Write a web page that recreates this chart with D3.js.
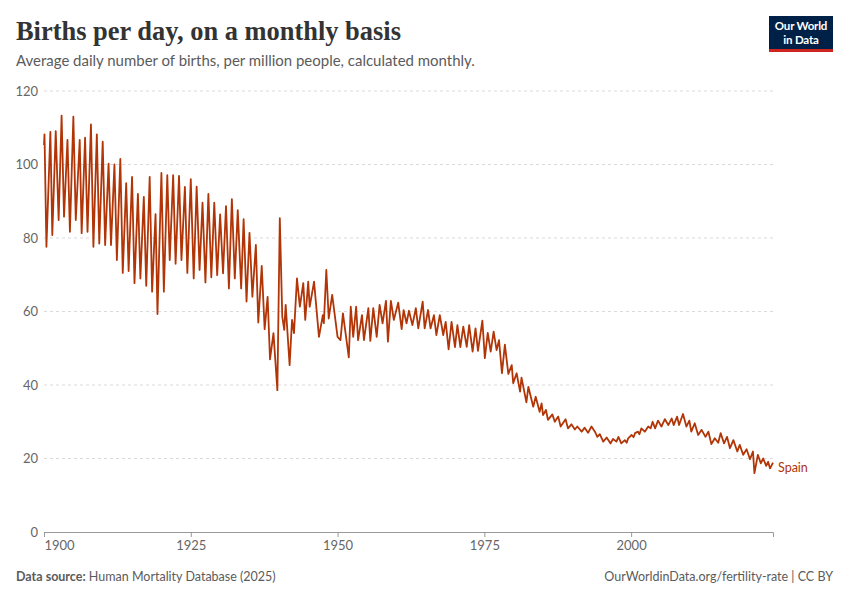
<!DOCTYPE html>
<html>
<head>
<meta charset="utf-8">
<script src="https://cdn.jsdelivr.net/npm/d3@7"></script>
<style>
  html, body { margin: 0; padding: 0; background: #fff; }
  svg { display: block; font-family: Lato, "Noto Sans", sans-serif; }
</style>
</head>
<body>
<div id="chart"></div>
<script>
// monthly births per day per million, Spain
const months = [
  "1900-01","1900-02","1900-06","1901-02","1901-06","1902-01","1902-07","1903-01","1903-06",
  "1904-01","1904-06","1905-01","1905-06","1906-02","1906-06","1907-01","1907-06","1908-01","1908-06",
  "1909-01","1909-06","1910-01","1910-06","1911-01","1911-06","1912-01","1912-06","1913-01","1913-06",
  "1914-01","1914-06","1915-01","1915-06","1916-01","1916-06","1917-01","1917-06","1918-01","1918-06",
  "1919-01","1919-05","1920-01","1920-06","1921-01","1921-06","1922-01","1922-06","1923-01","1923-06",
  "1924-01","1924-06","1925-01","1925-07","1926-01","1926-07","1927-01","1927-07","1928-01","1928-07",
  "1929-01","1929-07","1930-01","1930-07","1931-01","1931-07","1932-01","1932-07","1933-01","1933-08",
  "1934-01","1934-07","1935-01","1935-07","1936-02","1936-07","1937-02","1937-08","1938-02","1938-07",
  "1939-02","1939-10","1940-03","1940-08","1940-12","1941-03","1941-11","1942-04","1942-08",
  "1943-02","1943-08","1944-03","1944-07","1945-01","1945-04","1946-01","1946-11","1947-07","1947-09",
  "1948-02","1948-07","1949-02","1950-01","1950-07","1950-12","1951-05","1951-12","1952-04","1952-09",
  "1953-03","1953-07","1954-03","1954-07","1955-04","1955-08","1956-02","1956-09","1957-03","1957-09",
  "1958-04","1958-08","1959-02","1959-08","1960-05","1960-12","1961-04","1961-10","1962-03","1962-10",
  "1963-05","1963-10","1964-07","1964-11","1965-06","1965-11","1966-06","1966-11","1967-06","1968-01",
  "1968-06","1968-12","1969-06","1970-01","1970-06","1970-12","1971-06","1972-01","1972-06","1973-01",
  "1973-07","1973-12","1974-09","1975-02","1975-08","1976-02","1976-08","1977-02","1977-07","1978-01",
  "1978-07","1979-02","1979-09","1979-12","1980-07","1981-02","1981-05","1982-03","1982-07","1983-05",
  "1983-10","1984-06","1984-10","1985-01","1985-07","1985-11","1986-08","1987-01","1987-08","1988-01",
  "1988-11","1989-04","1989-11","1990-06","1990-11","1991-08","1992-02","1992-09","1993-04","1993-11",
  "1994-04","1994-09","1995-04","1995-11","1996-07","1996-12","1997-07","1997-11","1998-05","1998-12",
  "1999-04","1999-07","2000-02","2000-06","2000-09","2001-03","2001-06","2001-10","2002-05","2002-12",
  "2003-05","2003-09","2004-02","2004-08","2005-03","2005-10","2006-05","2006-12","2007-04","2007-11",
  "2008-03","2008-11","2009-06","2009-12","2010-04","2010-11","2011-06","2012-01","2012-09","2013-03",
  "2013-09","2014-04","2014-11","2015-04","2015-11","2016-05","2016-11","2017-06","2018-02","2018-07",
  "2019-02","2019-09","2020-04","2020-10","2021-01","2021-08","2022-02","2022-07","2023-01","2023-05",
  "2023-09","2024-03"
];

const births = [
  105.3,108.2,77.6,108.9,80.8,109.1,84.9,113.3,85.8,
  106.7,81.7,113,84.9,106.7,81.3,107.3,81.7,110.9,77.6,
  108.2,78.5,106.2,78.1,100.2,78.1,100,74,101.5,70.5,
  94.9,71,96.6,67.7,92,69,91.2,67,96.6,65.4,
  86.5,59.3,97.7,65.4,97.1,74,97.1,73,96.9,74,
  93.9,70.5,96,69,94,71.3,89.6,67.9,92,69.3,
  89.6,69.9,86.4,70.4,88.7,66.3,90.6,69,87.6,66.3,
  85.1,62.7,81.4,64,78.1,57,72.4,55.2,64,47,
  54.1,38.6,85.4,58.6,55,61.8,45.4,57.7,54.1,
  69,61.3,67.7,57.7,68.1,61.3,68.1,53.1,59,56.8,
  71.3,58.1,64.5,53.1,52.2,59.5,54.5,47.5,61.3,53.1,
  61.3,52.2,59,52.2,60.9,52,60.9,53.1,61.8,56.8,
  62.9,51.8,62.9,57.7,62.4,55.2,60.4,56.8,60.2,56.3,
  60.9,55.4,62.7,55.4,60.4,55.4,59,53.6,59,53.6,
  57.2,49.7,57.2,50.3,56.3,50.3,55.9,50.4,56.3,49.1,
  55.4,49.3,57.5,47.3,54.2,49.1,54.5,49.5,52.2,43.2,
  51,43,45.4,40.5,43.2,38.2,42,35.3,39.5,34.1,
  36.8,32.7,35,31.8,33.2,30.5,32,30,31.4,28.7,
  30.7,28.2,29.3,27.9,28.7,27.3,28.4,27,28.7,27.3,
  25.9,26.6,24.6,25.7,24.1,25.3,24.6,25.9,24.1,25,
  24.3,25.5,26.4,25.8,26.9,27.3,26.6,28.2,27.3,28.7,
  28.2,30,28.2,30.3,28.7,30.7,29.1,30.9,29.1,31.4,
  29.1,32.1,28.7,30.3,27.3,29.6,26.4,27.8,25.9,27.3,
  23.9,25.5,24.3,26.9,24.1,25.9,22.8,25,21.9,23.7,
  21,22.5,19.8,21.9,16,21,18.7,20,18,19.1,
  17.3,18.9
];

const country = "Spain";
const yTicks = [0, 20, 40, 60, 80, 100, 120];
const xTickYears = [1900, 1925, 1950, 1975, 2000];

const W = 850, H = 600;
const margin = { top: 91, right: 77, bottom: 68, left: 44 };
const lineColor = "#b13507";
const textGray = "#5b5b5b";

const parse = d3.timeParse("%Y-%m");
const data = months.map((m, i) => ({ date: parse(m), value: births[i] }));

const svg = d3.select("#chart").append("svg")
  .attr("width", W)
  .attr("height", H);

// header
const title = svg.append("text")
  .attr("x", 16)
  .attr("y", 40)
  .style("font-family", "'Liberation Serif', 'DejaVu Serif', serif")
  .style("font-weight", "700")
  .style("font-size", "27px")
  .style("fill", "#333")
  .text("Births per day, on a monthly basis");
// fit the serif fallback to the reference title width
const tw = title.node().getComputedTextLength();
title.style("font-size", (27 * 385 / tw).toFixed(2) + "px");

const sub = svg.append("text")
  .attr("x", 16)
  .attr("y", 66)
  .style("font-size", "14px")
  .style("fill", textGray)
  .text("Average daily number of births, per million people, calculated monthly.");
const sw = sub.node().getComputedTextLength();
sub.style("font-size", (14 * 459 / sw).toFixed(2) + "px");

// logo
const logo = svg.append("g").attr("transform", "translate(769,16)");
logo.append("rect").attr("width", 64).attr("height", 33).attr("fill", "#002147");
logo.append("rect").attr("y", 33).attr("width", 64).attr("height", 3).attr("fill", "#ce261e");
const logoText = logo.append("text")
  .attr("text-anchor", "middle")
  .style("font-size", "11.5px").style("font-weight", "700").style("fill", "#fff")
  .style("letter-spacing", "-0.2px");
logoText.append("tspan").attr("x", 32).attr("y", 13.5).text("Our World");
logoText.append("tspan").attr("x", 32).attr("y", 27.5).text("in Data");

// plot
const innerW = W - margin.left - margin.right;

const x = d3.scaleTime()
  .domain(d3.extent(data, d => d.date))
  .range([margin.left, margin.left + innerW]);

const y = d3.scaleLinear()
  .domain([0, 120])
  .range([532, margin.top]);

// grid
svg.append("g")
  .selectAll("line")
  .data(yTicks.filter(t => t > 0))
  .join("line")
  .attr("x1", margin.left)
  .attr("x2", margin.left + innerW)
  .attr("y1", d => y(d))
  .attr("y2", d => y(d))
  .attr("stroke", "#dadada")
  .attr("stroke-dasharray", "3,3");

svg.append("g")
  .selectAll("text")
  .data(yTicks)
  .join("text")
  .attr("x", 38)
  .attr("y", d => y(d))
  .attr("dy", "0.35em")
  .attr("text-anchor", "end")
  .style("font-size", "13px")
  .style("fill", "#666")
  .text(d => d);

// x axis
const xAxis = d3.axisBottom(x)
  .tickValues(xTickYears.map(yr => new Date(yr, 0, 1)))
  .tickFormat(d3.timeFormat("%Y"))
  .tickSize(5)
  .tickPadding(4);

const xg = svg.append("g")
  .attr("transform", `translate(0,${y(0)})`)
  .call(xAxis);
xg.select(".domain").attr("stroke", "#999");
xg.selectAll(".tick line").attr("stroke", "#999");
xg.selectAll(".tick text")
  .style("font-family", "Lato, sans-serif")
  .style("font-size", "13px")
  .style("fill", "#666")
  .attr("text-anchor", (d, i) => i === 0 ? "start" : "middle");

// line
const line = d3.line()
  .x(d => x(d.date))
  .y(d => y(d.value));

svg.append("path")
  .datum(data)
  .attr("d", line)
  .attr("fill", "none")
  .attr("stroke", lineColor)
  .attr("stroke-width", 1.8)
  .attr("stroke-linejoin", "round");

const last = data[data.length - 1];
svg.append("text")
  .attr("x", x(last.date) + 5)
  .attr("y", y(last.value) + 9)
  .style("font-size", "12.5px")
  .style("fill", lineColor)
  .text(country);

// footer
const foot = svg.append("text")
  .attr("x", 16)
  .attr("y", 581)
  .style("font-size", "12.5px")
  .style("fill", textGray);
foot.append("tspan").style("font-weight", "700").text("Data source:");
foot.append("tspan").text(" Human Mortality Database (2025)");

svg.append("text")
  .attr("x", 833)
  .attr("y", 581)
  .attr("text-anchor", "end")
  .style("font-size", "12.5px")
  .style("fill", textGray)
  .text("OurWorldinData.org/fertility-rate | CC BY");
</script>
</body>
</html>
